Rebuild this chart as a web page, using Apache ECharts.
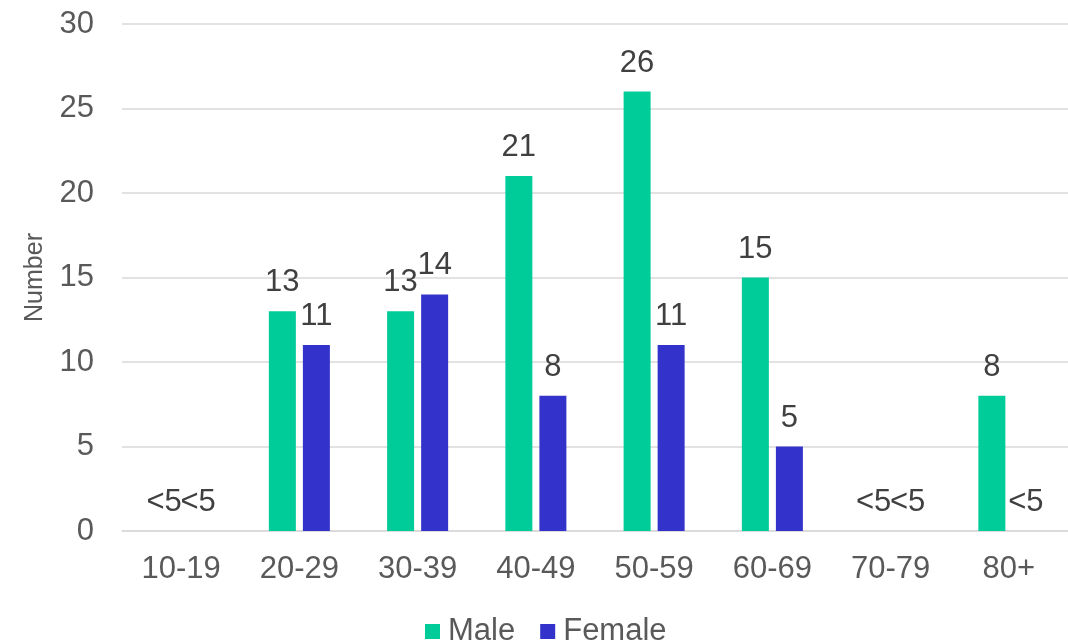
<!DOCTYPE html>
<html>
<head>
    <meta charset="UTF-8">
    <title>Number by age group</title>
    <script src="https://cdn.jsdelivr.net/npm/echarts@6/dist/echarts.min.js"></script>
    <style>
        html, body { margin: 0; padding: 0; background: #fff; }
        #chart { width: 1068px; height: 643px; }
    </style>
</head>
<body>
<div id="chart"></div>
<script type="text/javascript">
    // age groups on the x axis
    var ageGroups = ['10-19', '20-29', '30-39', '40-49', '50-59', '60-69', '70-79', '80+'];
    // counts, '<5' = suppressed small number
    var male = ['<5', 13, 13, 21, 26, 15, '<5', 8];
    var female = ['<5', 11, 14, 8, 11, 5, '<5', '<5'];
    var yTicks = [0, 5, 10, 15, 20, 25, 30];

    var font = "'Liberation Sans', Arial, sans-serif";

    // suppressed values get a zero bar with a "<5" label
    function toData(arr) {
        return arr.map(function (v) {
            if (v === '<5') {
                return { value: 0, label: { formatter: '<5' } };
            }
            return v;
        });
    }

    var chart = echarts.init(document.getElementById('chart'));

    var labelStyle = {
        show: true,
        position: 'top',
        distance: 13,
        color: '#404040',
        fontSize: 31,
        fontFamily: font
    };

    var option = {
        animation: false,
        grid: {
            left: 122,
            right: 0,
            top: 24,
            bottom: 112
        },
        legend: {
            top: 611,
            left: 420,
            itemWidth: 15,
            itemHeight: 15,
            itemGap: 25,
            icon: 'rect',
            textStyle: {
                color: '#595959',
                fontSize: 31,
                fontFamily: font,
                padding: [0, 0, 0, 3]
            },
            data: ['Male', 'Female']
        },
        xAxis: {
            type: 'category',
            data: ageGroups,
            axisLine: { lineStyle: { color: '#d9d9d9', width: 1.5 } },
            axisTick: { show: false },
            axisLabel: {
                color: '#595959',
                fontSize: 31,
                fontFamily: font,
                margin: 23
            }
        },
        yAxis: {
            type: 'value',
            min: yTicks[0],
            max: yTicks[yTicks.length - 1],
            interval: 5,
            name: 'Number',
            nameLocation: 'middle',
            nameGap: 74,
            nameTextStyle: {
                color: '#595959',
                fontSize: 25,
                fontFamily: font
            },
            axisLine: { show: false },
            axisTick: { show: false },
            splitLine: { lineStyle: { color: '#d9d9d9', width: 1.5 } },
            axisLabel: {
                color: '#595959',
                fontSize: 31,
                fontFamily: font,
                margin: 28
            }
        },
        series: [
            {
                name: 'Male',
                type: 'bar',
                data: toData(male),
                barWidth: 27,
                barGap: '26%',
                itemStyle: { color: '#00CC99' },
                label: labelStyle
            },
            {
                name: 'Female',
                type: 'bar',
                data: toData(female),
                barWidth: 27,
                itemStyle: { color: '#3333CC' },
                label: labelStyle
            }
        ]
    };

    chart.setOption(option);
</script>
</body>
</html>
